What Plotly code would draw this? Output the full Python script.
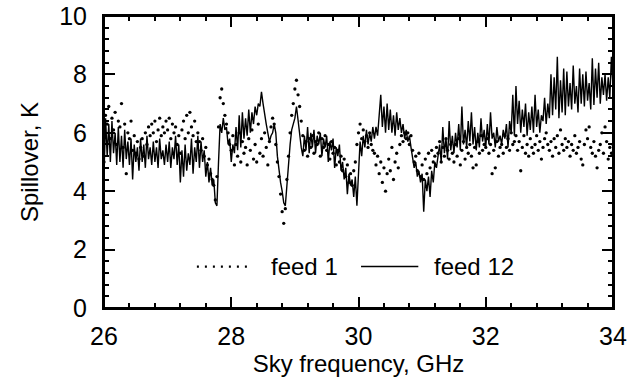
import plotly.graph_objects as go

# Sky frequency grid: 26 GHz start, 0.025 GHz step (321 samples)
freq_start = 26.0
freq_step = 0.025

feed12 = [
    4.6, 6.5, 5.2, 6.3, 5.0, 6.4, 5.3, 6.0, 4.9, 6.2,
    5.0, 5.9, 4.8, 6.1, 5.1, 5.7, 4.9, 5.8, 4.4, 5.6,
    5.0, 5.5, 4.7, 5.8, 5.0, 5.6, 4.8, 5.9, 5.1, 5.5,
    4.9, 5.7, 5.0, 5.5, 4.8, 5.8, 5.1, 5.4, 4.9, 5.6,
    5.0, 5.7, 4.8, 5.5, 5.1, 5.9, 4.9, 5.6, 4.3, 5.4,
    4.5, 5.6, 4.7, 5.3, 4.9, 5.8, 4.6, 5.5, 5.0, 5.9,
    4.8, 5.7, 5.0, 5.4, 4.5, 5.0, 4.3, 4.8, 4.2, 4.4,
    3.6, 3.5, 5.0, 6.3, 6.0, 6.5, 6.1, 6.2, 5.6, 5.8,
    5.0, 5.6, 5.3, 6.2, 5.4, 6.6, 5.5, 6.7, 5.8, 6.5,
    5.9, 6.8, 6.0, 6.7, 6.3, 6.9, 6.6, 7.0, 6.9, 7.4,
    7.0, 6.6, 6.3, 6.0, 5.7, 5.9, 6.0, 6.3, 6.0, 5.2,
    4.7, 4.3, 4.0, 3.6, 3.5, 4.3, 5.0, 5.6, 6.1, 6.3,
    6.5, 6.9, 6.4, 6.0, 5.5, 5.2, 5.9, 5.4, 6.2, 5.3,
    6.0, 5.5, 6.1, 5.3, 5.9, 5.6, 6.0, 5.2, 5.8, 5.5,
    5.9, 5.0, 5.7, 5.4, 5.8, 4.8, 5.5, 5.2, 5.6, 4.7,
    5.0, 4.4, 4.8, 3.9, 4.6, 4.2, 4.4, 3.8, 4.5, 3.5,
    4.6, 5.7, 5.2, 5.9, 5.5, 6.1, 5.6, 6.0, 5.7, 6.2,
    5.8, 6.2, 5.9, 6.5, 7.3, 6.2, 6.9, 6.0, 7.0, 6.1,
    6.8, 6.0, 6.6, 5.9, 6.7, 6.1, 6.5, 6.0, 6.3, 5.8,
    6.1, 5.7, 5.9, 5.5, 5.2, 4.8, 5.0, 4.5, 4.7, 4.3,
    4.6, 3.3, 4.4, 4.0, 4.5, 3.8, 4.7, 4.3, 5.0, 4.8,
    5.2, 5.6, 5.0, 6.2, 5.3, 5.8, 5.1, 6.4, 5.4, 5.9,
    5.3, 6.0, 5.5, 6.3, 5.4, 6.9, 5.6, 6.1, 5.5, 6.4,
    5.7, 6.7, 5.6, 6.2, 5.4, 6.0, 5.5, 6.5, 5.7, 6.1,
    5.5, 6.3, 5.6, 6.7, 5.8, 6.0, 5.5, 6.2, 5.7, 5.9,
    5.6, 6.1, 5.8, 6.3, 5.5, 6.4, 6.0, 7.3, 5.9, 7.6,
    6.3, 7.1, 6.0, 6.8, 6.2, 7.0, 5.9, 6.7, 6.1, 6.9,
    6.0, 7.3, 6.2, 6.8, 6.0, 6.6, 6.4, 7.2, 6.3, 7.0,
    6.5, 8.0, 6.6, 7.9, 6.8, 8.6, 6.5, 7.8, 6.7, 8.2,
    6.6, 8.1, 6.9, 7.7, 6.8, 8.3, 7.0, 7.6, 6.7, 8.2,
    7.0, 8.0, 6.9, 8.1, 7.1, 7.7, 6.8, 8.55, 6.95, 8.2,
    7.2, 8.4, 7.0, 7.9, 7.3, 8.0, 7.1, 7.9, 7.2, 8.6,
    7.6,
]

feed1 = [
    5.0, 6.6, 6.3, 6.9, 5.8, 6.5, 6.1, 6.7, 5.6, 6.4,
    6.2, 7.0, 5.5, 6.3, 4.6, 6.0, 5.8, 6.4, 5.4, 5.9,
    5.3, 5.7, 5.1, 5.5, 5.8, 5.2, 6.0, 5.6, 6.2, 5.9,
    6.3, 6.0, 6.4, 5.7, 6.1, 6.5, 5.9, 6.2, 6.0, 6.4,
    6.1, 6.5, 5.8, 6.3, 6.0, 6.2, 5.6, 5.9, 5.3, 6.1,
    6.4, 5.8, 6.6, 6.0, 6.7, 6.2, 5.9, 6.4, 5.7, 6.0,
    5.7, 5.4, 5.8, 5.2, 5.5, 4.9, 5.1, 4.6, 4.4, 4.2,
    3.7, 4.5, 6.2, 7.2, 7.5, 7.0, 6.6, 6.3, 6.0, 5.6,
    5.4, 5.9, 4.9, 5.6, 5.2, 6.0, 5.0, 5.7, 5.3, 5.5,
    4.9, 5.8, 5.4, 6.1, 5.1, 5.6, 5.0, 6.3, 5.3, 5.8,
    5.2, 6.0, 5.5, 4.9, 5.7, 6.2, 6.5, 6.3, 5.6, 5.0,
    4.5, 3.9, 3.3, 2.9, 3.4, 4.4, 5.2, 6.0, 6.6, 7.0,
    7.5, 7.8, 7.3, 6.9, 6.4, 5.9, 5.4, 5.7, 5.2, 5.8,
    5.5, 5.9, 5.3, 5.7, 5.6, 6.0, 5.2, 5.8, 5.5, 5.9,
    5.4, 5.6, 5.1, 5.7, 5.3, 5.5, 4.9, 5.4, 5.0, 5.2,
    4.7, 5.1, 4.5, 4.9, 4.3, 4.6, 4.2, 4.7, 5.0, 5.6,
    6.0, 6.3, 5.8, 6.1, 5.7, 5.9, 5.5, 6.0, 5.6, 5.4,
    5.3, 4.9, 5.2, 4.6, 5.0, 4.3, 4.8, 4.0, 4.6, 5.1,
    4.7, 5.5, 4.4, 5.0, 5.3, 4.8, 5.6, 5.9, 5.7, 6.0,
    5.8, 6.0, 5.6, 5.9, 5.4, 5.0, 5.2, 4.7, 5.3, 4.5,
    4.9, 4.4, 5.1, 4.6, 5.3, 4.8, 5.4, 5.0, 5.2, 5.5,
    5.3, 5.7, 5.0, 5.5, 5.2, 5.8, 5.4, 5.1, 5.6, 5.3,
    5.0, 5.6, 5.2, 5.8, 4.9, 5.4, 5.7, 5.1, 5.5, 5.3,
    5.6, 5.2, 4.8, 5.5, 4.9, 5.7, 5.3, 5.9, 5.4, 5.6,
    5.5, 5.8, 5.3, 5.6, 4.6, 5.4, 4.8, 5.7, 5.2, 5.5,
    5.6, 5.3, 5.9, 5.5, 5.8, 5.4, 6.0, 5.6, 5.7, 5.9,
    5.4, 5.7, 4.7, 5.5, 5.9, 5.3, 5.6, 5.2, 5.8, 5.5,
    5.3, 5.6, 5.9, 5.4, 5.7, 5.1, 5.5, 5.8, 6.0, 5.6,
    5.4, 5.7, 5.2, 5.8, 5.5, 5.9, 5.3, 6.1, 5.6, 5.4,
    5.8, 5.5, 5.7, 5.2, 5.6, 5.4, 5.9, 5.3, 5.5, 5.7,
    5.1, 4.9, 5.6, 6.1, 5.8, 6.2, 5.5, 5.3, 5.7, 5.2,
    4.8, 5.4, 5.6, 6.0, 5.3, 6.2, 5.7, 5.1, 5.5, 5.3,
    5.6,
]

x_ticks = [26, 28, 30, 32, 34]
y_ticks = [0, 2, 4, 6, 8, 10]
series_names = ["feed 1", "feed 12"]

FONT = "Arial, Liberation Sans, sans-serif"

fig = go.Figure()
fig.add_trace(go.Scatter(
    x0=freq_start, dx=freq_step, y=feed1, mode="markers",
    marker=dict(color="black", size=3.3), name=series_names[0], showlegend=False,
))
fig.add_trace(go.Scatter(
    x0=freq_start, dx=freq_step, y=feed12, mode="lines",
    line=dict(color="black", width=1.4), name=series_names[1], showlegend=False,
))

# plot frame
fig.add_shape(type="rect", xref="paper", yref="paper", x0=0, x1=1, y0=0, y1=1,
              line=dict(color="black", width=2), layer="above")

# manual legend
fig.add_shape(type="line", xref="x", yref="y", x0=27.46, x1=28.26, y0=1.42, y1=1.42,
              line=dict(color="black", width=2.2, dash="2px,6px"))
fig.add_shape(type="line", xref="x", yref="y", x0=30.04, x1=30.94, y0=1.42, y1=1.42,
              line=dict(color="black", width=1.4))
fig.add_annotation(x=28.59, y=1.42, xref="x", yref="y", text=series_names[0], showarrow=False,
                   xanchor="left", yanchor="middle", font=dict(size=24, color="black", family=FONT))
fig.add_annotation(x=31.16, y=1.42, xref="x", yref="y", text=series_names[1], showarrow=False,
                   xanchor="left", yanchor="middle", font=dict(size=24, color="black", family=FONT))

axis_common = dict(
    showgrid=False, zeroline=False, showline=True, linecolor="black", linewidth=2,
    mirror="ticks", ticks="inside", ticklen=11, tickwidth=1.5, tickcolor="black",
    tickfont=dict(size=25, color="black", family=FONT), automargin=False,
    ticklabeloverflow="allow",
)

fig.update_xaxes(
    range=[26, 34], tickvals=x_ticks, ticktext=[str(v) for v in x_ticks],
    minor=dict(dtick=0.4, tick0=26, ticks="inside", ticklen=5, tickwidth=1.5, tickcolor="black"),
    title=dict(text="Sky frequency, GHz", font=dict(size=24, color="black", family=FONT), standoff=2),
    ticklabelstandoff=5,
    **axis_common,
)
fig.update_yaxes(
    range=[0, 10], tickvals=y_ticks, ticktext=[str(v) for v in y_ticks],
    minor=dict(dtick=0.4, tick0=0, ticks="inside", ticklen=5, tickwidth=1.5, tickcolor="black"),
    title=dict(text="Spillover, K", font=dict(size=24, color="black", family=FONT), standoff=14),
    ticklabelstandoff=10,
    **axis_common,
)

fig.update_layout(
    width=641, height=386,
    margin=dict(l=104, r=28, t=16, b=78),
    paper_bgcolor="white", plot_bgcolor="white",
    font=dict(family=FONT, color="black"),
)

# remove the default 8px page margin so the figure sits at the window's top-left corner
fig.write_html("out.html", config={"displayModeBar": False},
               post_script="document.body.style.margin='0px';")
